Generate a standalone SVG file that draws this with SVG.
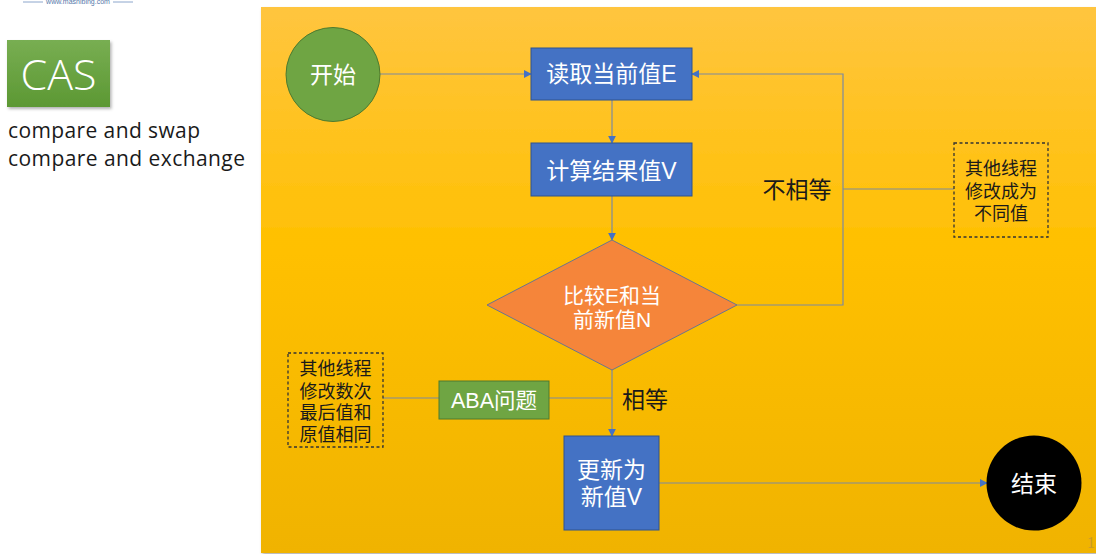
<svg xmlns="http://www.w3.org/2000/svg" width="1096" height="554" viewBox="0 0 1096 554">
<defs>
<linearGradient id="panelGrad" x1="0" y1="0" x2="0" y2="1">
<stop offset="0" stop-color="#FFC53F"/>
<stop offset="0.45" stop-color="#FFC000"/>
<stop offset="1" stop-color="#F0B300"/>
</linearGradient>
<linearGradient id="casGrad" x1="0" y1="0" x2="0" y2="1">
<stop offset="0" stop-color="#78AE52"/>
<stop offset="1" stop-color="#5C9833"/>
</linearGradient>
<filter id="shadow" x="-10%" y="-10%" width="130%" height="130%">
<feDropShadow dx="1.5" dy="2" stdDeviation="1.5" flood-color="#000" flood-opacity="0.3"/>
</filter>
<marker id="arrow" viewBox="0 0 10 10" refX="9" refY="5" markerWidth="8" markerHeight="8" markerUnits="userSpaceOnUse" orient="auto">
<path d="M0,0 L10,5 L0,10 z" fill="#4472C4"/>
</marker>
<style>
text { font-family: "Liberation Sans", "Noto Sans CJK SC", sans-serif; }
.blue { fill: #4472C4; stroke: #2F528F; stroke-width: 1; }
.white { fill: #FFFFFF; }
.dark { fill: #1A1A1A; }
.conn { fill: none; stroke: #7D8AA0; stroke-width: 1.2; }
.dashed { fill: none; stroke: #333333; stroke-width: 1.3; stroke-dasharray: 3,2.5; }
</style>
</defs>

<!-- watermark -->
<g id="watermark">
<line x1="23" y1="2" x2="43" y2="2" stroke="#6F8FBF" stroke-width="0.8"/>
<line x1="113" y1="2" x2="133" y2="2" stroke="#6F8FBF" stroke-width="0.8"/>
<text x="78" y="4" font-size="7" fill="#5577AA" text-anchor="middle">www.mashibing.com</text>
</g>

<!-- left title -->
<g id="cas-title">
<rect x="7" y="40" width="103" height="67" fill="url(#casGrad)" filter="url(#shadow)"/>
<text x="58.5" y="90" font-size="43" class="white" text-anchor="middle" font-weight="300" style="font-family:'Open Sans','Liberation Sans',sans-serif">CAS</text>
</g>
<g id="cas-desc">
<text x="8" y="138" font-size="21" class="dark" style="font-family:'Open Sans','Liberation Sans',sans-serif" textLength="192">compare and swap</text>
<text x="8" y="166" font-size="21" class="dark" style="font-family:'Open Sans','Liberation Sans',sans-serif" textLength="237">compare and exchange</text>
</g>

<!-- panel -->
<rect x="261" y="7" width="840" height="546" fill="url(#panelGrad)" filter="url(#shadow)"/>
<text x="1087" y="548" font-size="16" fill="#C99B28" style="font-family:'Liberation Serif',serif">1</text>

<!-- connectors -->
<g id="connectors">
<line class="conn" x1="380" y1="74" x2="531" y2="74" marker-end="url(#arrow)"/>
<line class="conn" x1="612" y1="100" x2="612" y2="143" marker-end="url(#arrow)"/>
<line class="conn" x1="612" y1="196" x2="612" y2="240" marker-end="url(#arrow)"/>
<polyline class="conn" points="737,305 843,305 843,74 692,74" marker-end="url(#arrow)"/>
<line class="conn" x1="843" y1="189" x2="954" y2="189"/>
<line class="conn" x1="612" y1="370" x2="612" y2="436" marker-end="url(#arrow)"/>
<line class="conn" x1="549" y1="398" x2="612" y2="398"/>
<line class="conn" x1="383" y1="398" x2="439" y2="398"/>
<line class="conn" x1="659" y1="483" x2="987" y2="483" marker-end="url(#arrow)"/>
</g>

<!-- nodes -->
<g id="start">
<circle cx="333" cy="74.5" r="47" fill="#6FA543" stroke="#4E7A2E" stroke-width="1"/>
<text x="333" y="83" font-size="23" class="white" text-anchor="middle">开始</text>
</g>
<g id="read">
<rect class="blue" x="531" y="48" width="161" height="52"/>
<text x="611.5" y="82" font-size="23" class="white" text-anchor="middle">读取当前值E</text>
</g>
<g id="compute">
<rect class="blue" x="531" y="143" width="161" height="53"/>
<text x="611.5" y="179" font-size="23" class="white" text-anchor="middle">计算结果值V</text>
</g>
<g id="compare">
<polygon points="612,240 737,305 612,370 487,305" fill="#F5853A" stroke="#6A7590" stroke-width="1"/>
<text font-size="21" class="white" text-anchor="middle"><tspan x="612" y="302.5">比较E和当</tspan><tspan x="612" y="326.5">前新值N</tspan></text>
</g>
<g id="label-ne">
<text x="797" y="198" font-size="23" class="dark" text-anchor="middle">不相等</text>
</g>
<g id="note-ne">
<rect class="dashed" x="954" y="143" width="94" height="94"/>
<text font-size="18" class="dark" text-anchor="middle"><tspan x="1001" y="174.5">其他线程</tspan><tspan x="1001" y="197.5">修改成为</tspan><tspan x="1001" y="219.5">不同值</tspan></text>
</g>
<g id="label-eq">
<text x="645" y="408" font-size="23" class="dark" text-anchor="middle">相等</text>
</g>
<g id="aba">
<rect x="439" y="381" width="110" height="38" fill="#6FA543" stroke="#4E7A2E" stroke-width="1"/>
<text x="494" y="407.5" font-size="21.5" class="white" text-anchor="middle">ABA问题</text>
</g>
<g id="note-aba">
<rect class="dashed" x="288" y="353" width="95" height="94"/>
<text font-size="18" class="dark" text-anchor="middle"><tspan x="335.5" y="375">其他线程</tspan><tspan x="335.5" y="397.5">修改数次</tspan><tspan x="335.5" y="419">最后值和</tspan><tspan x="335.5" y="441">原值相同</tspan></text>
</g>
<g id="update">
<rect class="blue" x="564" y="436" width="95" height="94"/>
<text font-size="23" class="white" text-anchor="middle"><tspan x="611.5" y="478">更新为</tspan><tspan x="611.5" y="505">新值V</tspan></text>
</g>
<g id="end">
<circle cx="1034" cy="483" r="47.5" fill="#000000"/>
<text x="1034" y="492" font-size="23" class="white" text-anchor="middle">结束</text>
</g>
</svg>
